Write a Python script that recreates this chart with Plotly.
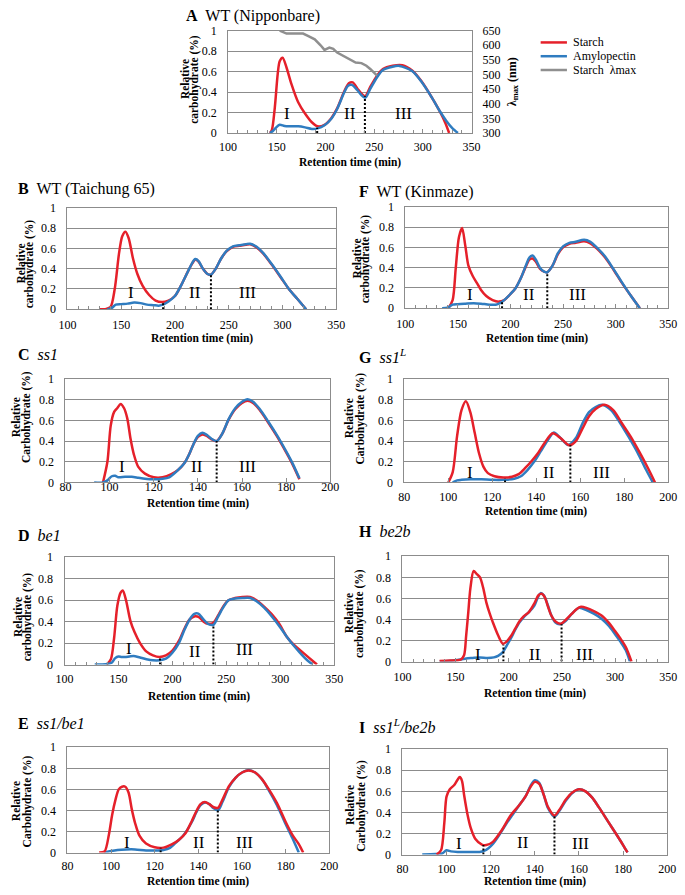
import plotly.graph_objects as go

W, H = 685, 895
RED = '#e5202a'
BLUE = '#2f7cc0'
LGRAY = '#8f8f8f'
GRID = '#8c8c8c'
FONT = 'Liberation Serif, DejaVu Serif, serif'

# ---------------- data ----------------
# A  WT (Nipponbare)
A_starch_x = [143, 145, 148, 151, 153, 156, 160, 165, 172, 179, 186, 192, 199, 206, 212, 219, 224, 228, 233, 238, 241, 246, 253, 259, 269, 279, 289, 299, 309, 318, 323, 327]
A_starch_y = [0, 0.03, 0.25, 0.58, 0.70, 0.735, 0.64, 0.48, 0.30, 0.19, 0.105, 0.065, 0.08, 0.145, 0.24, 0.40, 0.485, 0.495, 0.43, 0.375, 0.36, 0.45, 0.56, 0.625, 0.657, 0.662, 0.61, 0.50, 0.35, 0.20, 0.10, 0]
A_amylo_x = [143, 146, 149, 153, 158, 165, 172, 179, 186, 192, 199, 206, 212, 219, 223, 227, 233, 238, 241, 246, 253, 259, 269, 276, 289, 299, 309, 318, 324, 330, 336]
A_amylo_y = [0, 0.02, 0.05, 0.08, 0.068, 0.066, 0.065, 0.055, 0.04, 0.045, 0.075, 0.14, 0.235, 0.39, 0.46, 0.47, 0.415, 0.36, 0.345, 0.43, 0.545, 0.615, 0.648, 0.655, 0.605, 0.495, 0.35, 0.205, 0.12, 0.05, 0]
A_lambda_x = [153, 157, 160, 165, 170, 177, 182, 189, 195, 199, 204, 208, 212, 218, 222, 227, 231, 237, 242, 246, 250, 253]
A_lambda_y = [650, 645, 640, 640, 641, 640, 632, 620, 600, 584, 592, 588, 575, 565, 558, 548, 541, 539, 530, 519, 505, 496]
A_bound_x = [191.5, 240.5]
A_bound_y = [0.05, 0.36]

# B  WT (Taichung 65)
B_starch_x = [130, 135, 140, 144, 148, 151, 154, 157, 161, 165, 170, 176, 182, 188, 194, 200, 206, 212, 216, 219, 222, 226, 230, 233.5, 238, 243, 248, 254, 260, 266, 270, 276, 282, 290, 298, 306, 314, 322]
B_starch_y = [0, 0, 0.02, 0.2, 0.55, 0.72, 0.765, 0.7, 0.5, 0.35, 0.23, 0.14, 0.085, 0.07, 0.085, 0.13, 0.24, 0.37, 0.45, 0.49, 0.47, 0.4, 0.35, 0.34, 0.4, 0.5, 0.57, 0.615, 0.625, 0.635, 0.64, 0.61, 0.55, 0.44, 0.32, 0.2, 0.1, 0]
B_amylo_x = [137, 141, 145, 150, 156, 162, 168, 174, 180, 185, 190, 194, 200, 206, 212, 216, 219, 222, 226, 230, 233.5, 238, 243, 248, 254, 260, 266, 270, 276, 282, 290, 298, 306, 314, 322]
B_amylo_y = [0, 0.01, 0.045, 0.05, 0.055, 0.065, 0.06, 0.045, 0.04, 0.035, 0.05, 0.075, 0.13, 0.24, 0.37, 0.455, 0.495, 0.475, 0.4, 0.35, 0.34, 0.4, 0.5, 0.575, 0.62, 0.63, 0.64, 0.645, 0.615, 0.555, 0.445, 0.325, 0.2, 0.1, 0]
B_bound_x = [189, 233.5]
B_bound_y = [0.065, 0.34]

# F  WT (Kinmaze)
F_starch_x = [141, 145, 148, 151, 154, 157, 160, 164, 168, 172, 177, 183, 189, 194, 200, 205, 210, 215, 218, 221, 224, 228, 232, 235, 240, 245, 250, 256, 262, 270, 276, 282, 290, 298, 306, 314, 323]
F_starch_y = [0, 0.08, 0.4, 0.7, 0.79, 0.62, 0.42, 0.32, 0.25, 0.18, 0.12, 0.08, 0.065, 0.08, 0.14, 0.2, 0.3, 0.42, 0.48, 0.49, 0.46, 0.39, 0.36, 0.355, 0.42, 0.53, 0.6, 0.635, 0.645, 0.66, 0.64, 0.59, 0.5, 0.38, 0.25, 0.13, 0]
F_amylo_x = [135, 140, 145, 150, 157, 165, 172, 180, 186, 190, 194, 200, 205, 210, 215, 218, 221, 224, 228, 232, 235, 240, 245, 250, 256, 262, 270, 276, 282, 290, 298, 306, 314, 323]
F_amylo_y = [0, 0.005, 0.035, 0.04, 0.045, 0.05, 0.045, 0.035, 0.035, 0.05, 0.08, 0.14, 0.2, 0.3, 0.43, 0.5, 0.52, 0.48, 0.4, 0.36, 0.355, 0.42, 0.54, 0.61, 0.645, 0.655, 0.675, 0.655, 0.6, 0.51, 0.385, 0.255, 0.13, 0]
F_bound_x = [192, 235]
F_bound_y = [0.07, 0.355]

# C  ss1
C_starch_x = [97, 99, 100.5, 102, 103.5, 105, 106.5, 108, 109.5, 111, 113, 116, 120, 124, 128, 131, 134, 136, 138, 140, 142, 144, 146, 148.5, 151, 154, 157, 160, 162.5, 165, 168, 172, 176, 180, 183, 186]
C_starch_y = [0, 0.2, 0.55, 0.68, 0.72, 0.76, 0.72, 0.62, 0.42, 0.27, 0.15, 0.085, 0.05, 0.05, 0.08, 0.12, 0.19, 0.27, 0.37, 0.44, 0.465, 0.45, 0.42, 0.40, 0.47, 0.61, 0.71, 0.77, 0.79, 0.77, 0.7, 0.575, 0.44, 0.29, 0.17, 0.03]
C_amylo_x = [93, 97, 99, 101, 102.5, 104, 107, 110, 113, 116, 120, 124, 127, 130, 134, 136, 138, 140, 142, 144, 146, 148.5, 151, 154, 157, 160, 162.5, 165, 168, 172, 176, 180, 183, 186]
C_amylo_y = [0, 0, 0.02, 0.06, 0.065, 0.05, 0.055, 0.055, 0.045, 0.035, 0.03, 0.035, 0.05, 0.1, 0.19, 0.27, 0.37, 0.45, 0.48, 0.46, 0.425, 0.40, 0.47, 0.615, 0.72, 0.78, 0.805, 0.78, 0.71, 0.585, 0.45, 0.3, 0.18, 0.04]
C_bound_x = [122.3, 148.5]
C_bound_y = [0.035, 0.40]

# G  ss1L
G_starch_x = [100, 102, 104, 106, 108, 110, 112, 114, 116, 118, 121, 125, 129, 132, 135, 138, 141, 144, 147.5, 151, 155, 158, 161, 164, 167, 171, 175, 179, 183, 187, 191, 194]
G_starch_y = [0, 0.1, 0.45, 0.7, 0.785, 0.68, 0.48, 0.28, 0.15, 0.09, 0.06, 0.048, 0.055, 0.08, 0.14, 0.21, 0.29, 0.39, 0.475, 0.43, 0.36, 0.4, 0.52, 0.64, 0.71, 0.752, 0.7, 0.57, 0.44, 0.29, 0.13, 0]
G_amylo_x = [102, 104, 106, 110, 115, 120, 125, 130, 133, 136, 139, 142, 145, 148, 151, 154.5, 158, 161, 164, 167, 170, 174, 178, 182, 186, 190, 193]
G_amylo_y = [0, 0.02, 0.025, 0.03, 0.03, 0.025, 0.025, 0.035, 0.06, 0.12, 0.2, 0.3, 0.4, 0.483, 0.43, 0.362, 0.43, 0.57, 0.68, 0.73, 0.752, 0.7, 0.58, 0.44, 0.29, 0.12, 0]
G_bound_x = [125.8, 155.5]
G_bound_y = [0.04, 0.36]

# D  be1
D_starch_x = [139, 143, 146, 149, 152, 154, 157, 161, 165, 170, 176, 182, 188, 194, 200, 206, 211, 216, 221, 225, 229, 233, 238, 242, 247, 252, 258, 265, 272, 278, 285, 292, 299, 306, 313, 320, 327, 334]
D_starch_y = [0, 0.05, 0.25, 0.55, 0.67, 0.69, 0.6, 0.41, 0.3, 0.2, 0.12, 0.085, 0.07, 0.085, 0.13, 0.22, 0.33, 0.42, 0.45, 0.44, 0.4, 0.38, 0.39, 0.45, 0.54, 0.6, 0.62, 0.63, 0.63, 0.6, 0.54, 0.47, 0.38, 0.26, 0.18, 0.12, 0.06, 0]
D_amylo_x = [128, 135, 140, 144, 147, 150, 153, 156, 160, 164, 170, 176, 182, 188, 194, 200, 206, 211, 216, 220, 224, 228, 233, 238, 242, 247, 252, 258, 265, 272, 278, 285, 292, 299, 306, 313, 320, 325, 330]
D_amylo_y = [0, 0, 0.005, 0.02, 0.06, 0.075, 0.07, 0.07, 0.075, 0.08, 0.065, 0.05, 0.04, 0.04, 0.055, 0.11, 0.2, 0.32, 0.42, 0.47, 0.475, 0.43, 0.38, 0.37, 0.44, 0.53, 0.6, 0.615, 0.62, 0.62, 0.59, 0.53, 0.45, 0.36, 0.26, 0.17, 0.09, 0.04, 0]
D_bound_x = [188.5, 238]
D_bound_y = [0.065, 0.37]

# H  be2b
H_starch_x = [135, 145, 152, 155, 158, 160, 162, 164, 167, 170, 173, 176, 179, 182, 185, 190, 194.5, 198, 202, 206, 210, 214, 219, 224, 228, 231, 234, 237, 240, 244, 249, 254, 259, 264, 268, 273, 280, 287, 294, 300, 305, 310, 315.5]
H_starch_y = [0.005, 0.01, 0.012, 0.02, 0.06, 0.25, 0.47, 0.7, 0.86, 0.83, 0.8, 0.7, 0.56, 0.46, 0.375, 0.25, 0.17, 0.19, 0.24, 0.31, 0.38, 0.43, 0.47, 0.55, 0.63, 0.645, 0.61, 0.52, 0.44, 0.38, 0.36, 0.4, 0.45, 0.5, 0.52, 0.51, 0.48, 0.44, 0.37, 0.29, 0.22, 0.14, 0]
H_amylo_x = [135, 148, 155, 160, 166, 173, 180, 186, 190, 194.5, 198, 202, 206, 210, 214, 219, 224, 227, 230, 233, 237, 240, 244, 248, 254, 259, 266, 273, 280, 287, 294, 300, 305, 310, 314]
H_amylo_y = [0, 0.01, 0.02, 0.03, 0.035, 0.04, 0.035, 0.04, 0.055, 0.09, 0.15, 0.22, 0.3, 0.37, 0.42, 0.47, 0.53, 0.6, 0.65, 0.63, 0.53, 0.44, 0.37, 0.355, 0.39, 0.45, 0.51, 0.49, 0.455, 0.41, 0.34, 0.26, 0.19, 0.11, 0]
H_bound_x = [195, 249.7]
H_bound_y = [0.16, 0.355]

# E  ss1/be1
E_starch_x = [94.5, 97, 99, 100.5, 102, 103.5, 105, 106.5, 108, 109.5, 111, 113, 116, 120, 124, 128, 131, 134, 137, 139, 141, 143, 145, 147, 149, 151, 154, 157, 160, 163, 166, 169, 172, 176, 180, 183, 186, 188]
E_starch_y = [0, 0.01, 0.17, 0.36, 0.5, 0.6, 0.625, 0.625, 0.57, 0.41, 0.28, 0.16, 0.085, 0.05, 0.047, 0.08, 0.12, 0.18, 0.3, 0.39, 0.46, 0.48, 0.46, 0.43, 0.425, 0.5, 0.63, 0.71, 0.76, 0.78, 0.76, 0.7, 0.61, 0.47, 0.29, 0.17, 0.08, 0]
E_amylo_x = [97, 100, 103, 107, 111, 116, 120, 124, 127, 130, 133, 137, 139, 141, 143, 145, 147, 149, 151, 154, 157, 160, 163, 166, 169, 172, 176, 180, 183, 186]
E_amylo_y = [0, 0.015, 0.025, 0.03, 0.03, 0.02, 0.02, 0.025, 0.045, 0.1, 0.16, 0.29, 0.38, 0.45, 0.475, 0.46, 0.42, 0.40, 0.48, 0.62, 0.71, 0.76, 0.785, 0.76, 0.7, 0.6, 0.45, 0.27, 0.14, 0]
E_bound_x = [122.7, 148.9]
E_bound_y = [0.045, 0.41]

# I  ss1L/be2b
I_starch_x = [95.5, 97.5, 99, 100, 101.5, 103.5, 105, 106, 107, 108, 109.5, 111, 113, 116, 118, 121, 125, 129, 133, 136, 138, 140, 142, 144, 146, 148.9, 151, 154, 157, 160, 163, 166, 169, 173, 177, 180, 182]
I_starch_y = [0, 0.04, 0.3, 0.55, 0.62, 0.66, 0.71, 0.735, 0.7, 0.56, 0.38, 0.25, 0.15, 0.095, 0.09, 0.12, 0.23, 0.37, 0.47, 0.56, 0.64, 0.69, 0.67, 0.57, 0.45, 0.37, 0.42, 0.52, 0.59, 0.62, 0.6, 0.54, 0.45, 0.32, 0.19, 0.09, 0.02]
I_amylo_x = [89, 95, 98, 100, 102, 105, 110, 115, 117, 119, 121, 124, 127, 130, 133, 136, 138, 140, 142, 144, 146, 148.9, 151, 154, 157, 160, 163, 166, 169, 173, 177, 180, 182]
I_amylo_y = [0, 0.005, 0.01, 0.04, 0.03, 0.025, 0.025, 0.025, 0.035, 0.06, 0.1, 0.19, 0.29, 0.38, 0.47, 0.56, 0.65, 0.705, 0.68, 0.57, 0.44, 0.36, 0.41, 0.51, 0.585, 0.62, 0.6, 0.54, 0.45, 0.32, 0.19, 0.09, 0.02]
I_bound_x = [116.7, 148.9]
I_bound_y = [0.09, 0.37]

fraction_names = ['I', 'II', 'III']
y_ticks = [0, 0.2, 0.4, 0.6, 0.8, 1]
y_ticktext = ['0', '0.2', '0.4', '0.6', '0.8', '1']
lambda_ticks = [300, 350, 400, 450, 500, 550, 600, 650]
legend_names = ['Starch', 'Amylopectin', 'Starch\u00a0 λmax']
legend_colors = [RED, BLUE, LGRAY]

# ---------------- layout config (pixels) ----------------
panels = [
    dict(title='<b>A</b>\u00a0 WT (Nipponbare)', tpos=(180, 9), box=(225, 475, 24, 128), xr=[100, 350], dt=50,
         sx=A_starch_x, sy=A_starch_y, ax=A_amylo_x, ay=A_amylo_y, bx=A_bound_x, by=A_bound_y,
         lab_x=[160, 225, 280], lab_y=[0.19, 0.19, 0.19], ylab=('Relative', 'carbohydrate (%)'), ylpos=(181, 191, 73),
         xt=158, xs=3, red_top=False),
    dict(title='<b>B</b>\u00a0 WT (Taichung 65)', tpos=(7, 185), box=(60, 336, 204, 307), xr=[100, 350], dt=50,
         sx=B_starch_x, sy=B_starch_y, ax=B_amylo_x, ay=B_amylo_y, bx=B_bound_x, by=B_bound_y,
         lab_x=[159, 218.5, 267.5], lab_y=[0.16, 0.16, 0.16], ylab=('Relative', 'carbohydrate (%)'), ylpos=(12, 21, 261),
         xt=337, xs=4, red_top=False),
    dict(title='<b>F</b>\u00a0 WT (Kinmaze)', tpos=(357, 188), box=(407, 677, 203, 306), xr=[100, 350], dt=50,
         sx=F_starch_x, sy=F_starch_y, ax=F_amylo_x, ay=F_amylo_y, bx=F_bound_x, by=F_bound_y,
         lab_x=[161.5, 217.5, 264], lab_y=[0.14, 0.14, 0.14], ylab=('Relative', 'carbohydrate (%)'), ylpos=(357, 367, 256),
         xt=337, xs=4, red_top=False),
    dict(title='<b>C</b>\u00a0 <i>ss1</i>', tpos=(7, 353), box=(58, 330, 378, 483), xr=[80, 200], dt=20,
         sx=C_starch_x, sy=C_starch_y, ax=C_amylo_x, ay=C_amylo_y, bx=C_bound_x, by=C_bound_y,
         lab_x=[105.8, 139.6, 162.5], lab_y=[0.15, 0.15, 0.15], ylab=('Relative', 'Carbohydrate (%)'), ylpos=(8, 18, 417),
         xt=504, xs=-7, red_top=False),
    dict(title='<b>G</b>\u00a0 <i>ss1<sup>L</sup></i>', tpos=(357, 355), box=(406, 677, 378, 483), xr=[80, 200], dt=20,
         sx=G_starch_x, sy=G_starch_y, ax=G_amylo_x, ay=G_amylo_y, bx=G_bound_x, by=G_bound_y,
         lab_x=[109.8, 145.7, 169.6], lab_y=[0.1, 0.1, 0.1], ylab=('Relative', 'Carbohydrate (%)'), ylpos=(350, 360.5, 418),
         xt=513, xs=3, red_top=True),
    dict(title='<b>D</b>\u00a0 <i>be1</i>', tpos=(7, 537), box=(57, 334, 559, 668), xr=[100, 350], dt=50,
         sx=D_starch_x, sy=D_starch_y, ax=D_amylo_x, ay=D_amylo_y, bx=D_bound_x, by=D_bound_y,
         lab_x=[159.5, 220.6, 267], lab_y=[0.15, 0.12, 0.14], ylab=('Relative', 'carbohydrate (%)'), ylpos=(10, 18.5, 620),
         xt=700, xs=3, red_top=False),
    dict(title='<b>H</b>\u00a0 <i>be2b</i>', tpos=(357, 533), box=(404, 677, 558, 665), xr=[100, 350], dt=50,
         sx=H_starch_x, sy=H_starch_y, ax=H_amylo_x, ay=H_amylo_y, bx=H_bound_x, by=H_bound_y,
         lab_x=[171.5, 225, 271], lab_y=[0.07, 0.07, 0.07], ylab=('Relative', 'carbohydrate (%)'), ylpos=(350, 360, 616),
         xt=697, xs=4, red_top=True),
    dict(title='<b>E</b>\u00a0 <i>ss1/be1</i>', tpos=(7, 728), box=(60, 329, 752, 859), xr=[80, 200], dt=20,
         sx=E_starch_x, sy=E_starch_y, ax=E_amylo_x, ay=E_amylo_y, bx=E_bound_x, by=E_bound_y,
         lab_x=[107.4, 140.3, 161], lab_y=[0.1, 0.1, 0.1], ylab=('Relative', 'Carbohydrate (%)'), ylpos=(8, 18.5, 807),
         xt=888, xs=2, red_top=True),
    dict(title='<b>I</b>\u00a0 <i>ss1<sup>L</sup>/be2b</i>', tpos=(357, 730), box=(404, 676, 754, 861), xr=[80, 200], dt=20,
         sx=I_starch_x, sy=I_starch_y, ax=I_amylo_x, ay=I_amylo_y, bx=I_bound_x, by=I_bound_y,
         lab_x=[105.6, 134.8, 160.7], lab_y=[0.1, 0.115, 0.1], ylab=('Relative', 'Carbohydrate (%)'), ylpos=(351, 362, 811),
         xt=888, xs=3, red_top=True),
]


def fx(p):
    return p / W


def fy(p):
    return 1 - p / H


fig = go.Figure()
layout = {}
ann = []
shapes = []

for i, p in enumerate(panels, start=1):
    sfx = '' if i == 1 else str(i)
    xref, yref = 'x' + sfx, 'y' + sfx
    l, r, t, b = p['box']
    xa = dict(domain=[fx(l), fx(r)], range=p['xr'], anchor=yref, tick0=p['xr'][0], dtick=p['dt'],
              showgrid=False, zeroline=False, showline=True, mirror=True, linecolor=GRID, linewidth=1,
              ticks='inside', ticklen=4, tickcolor=GRID, ticklabelstandoff=p['xs'],
              tickfont=dict(family=FONT, size=12, color='black'))
    if p['dt'] == 50:
        xa['minor'] = dict(ticks='inside', ticklen=3, dtick=10, tickcolor=GRID, showgrid=False)
    ya = dict(domain=[fy(b), fy(t)], range=[0, 1], anchor=xref, tickvals=y_ticks, ticktext=y_ticktext,
              showgrid=True, gridcolor=GRID, gridwidth=1, zeroline=False, showline=True, mirror=True,
              linecolor=GRID, linewidth=1, ticks='', ticklabelstandoff=8,
              tickfont=dict(family=FONT, size=12, color='black'))
    layout['xaxis' + sfx] = xa
    layout['yaxis' + sfx] = ya

    red = go.Scatter(x=p['sx'], y=p['sy'], mode='lines', name='Starch',
                     line=dict(color=RED, width=2.5, shape='spline', smoothing=0.8),
                     xaxis=xref, yaxis=yref, showlegend=False, hoverinfo='skip')
    blue = go.Scatter(x=p['ax'], y=p['ay'], mode='lines', name='Amylopectin',
                      line=dict(color=BLUE, width=2.5, shape='spline', smoothing=0.8),
                      xaxis=xref, yaxis=yref, showlegend=False, hoverinfo='skip')
    if p['red_top']:
        fig.add_trace(blue)
        fig.add_trace(red)
    else:
        fig.add_trace(red)
        fig.add_trace(blue)
    for bxv, byv in zip(p['bx'], p['by']):
        fig.add_trace(go.Scatter(x=[bxv, bxv], y=[0, byv], mode='lines',
                                 line=dict(color='black', width=2, dash='2px,2px'),
                                 xaxis=xref, yaxis=yref, showlegend=False, hoverinfo='skip'))
    for name, lx, ly in zip(fraction_names, p['lab_x'], p['lab_y']):
        ann.append(dict(x=lx, y=ly, xref=xref, yref=yref, text=name, showarrow=False,
                        font=dict(family=FONT, size=17, color='black')))
    # panel title
    ann.append(dict(x=fx(p['tpos'][0]), y=fy(p['tpos'][1]), xref='paper', yref='paper', xanchor='left',
                    yanchor='middle', text=p['title'], showarrow=False,
                    font=dict(family=FONT, size=16, color='black')))
    # y title (two lines)
    x1, x2, yc = p['ylpos']
    for txt, xx in zip(p['ylab'], (x1, x2)):
        ann.append(dict(x=fx(xx), y=fy(yc), xref='paper', yref='paper', xanchor='center', yanchor='middle',
                        text='<b>' + txt + '</b>', textangle=-90, showarrow=False,
                        font=dict(family=FONT, size=11.5, color='black')))
    # x title
    ann.append(dict(x=fx((l + r) / 2), y=fy(p['xt']), xref='paper', yref='paper', xanchor='center',
                    yanchor='middle', text='<b>Retention time (min)</b>', showarrow=False,
                    font=dict(family=FONT, size=11.5, color='black')))

# lambda max on right axis of panel A
l, r, t, b = panels[0]['box']
layout['yaxis10'] = dict(domain=[fy(b), fy(t)], range=[300, 650], overlaying='y', side='right', anchor='x',
                         tickvals=lambda_ticks, showgrid=False, zeroline=False, showline=False, ticks='',
                         ticklabelstandoff=10, tickfont=dict(family=FONT, size=12, color='black'))
fig.add_trace(go.Scatter(x=A_lambda_x, y=A_lambda_y, mode='lines', name='Starch\u00a0 λmax',
                         line=dict(color=LGRAY, width=2.5), xaxis='x', yaxis='y10', showlegend=False,
                         hoverinfo='skip'))
ann.append(dict(x=fx(517), y=fy(76), xref='paper', yref='paper', xanchor='center', yanchor='middle',
                text='<b>λ<sub>max</sub> (nm)</b>', textangle=-90, showarrow=False,
                font=dict(family=FONT, size=12, color='black')))

# legend (drawn as key lines + labels)
for k, (nm, col) in enumerate(zip(legend_names, legend_colors)):
    yy = 36 + 14 * k
    shapes.append(dict(type='line', xref='paper', yref='paper', x0=fx(546), x1=fx(573), y0=fy(yy), y1=fy(yy),
                       line=dict(color=col, width=2.5)))
    ann.append(dict(x=fx(577), y=fy(yy), xref='paper', yref='paper', xanchor='left', yanchor='middle',
                    text=nm, showarrow=False, font=dict(family=FONT, size=12, color='black')))

fig.update_layout(
    width=W, height=H, margin=dict(l=0, r=0, t=0, b=0),
    paper_bgcolor='white', plot_bgcolor='white',
    font=dict(family=FONT, size=12, color='black'),
    annotations=ann, shapes=shapes, showlegend=False,
    **layout,
)

fig.write_html('out.html', config={'displayModeBar': False},
               post_script="document.body.style.margin='0px';")
